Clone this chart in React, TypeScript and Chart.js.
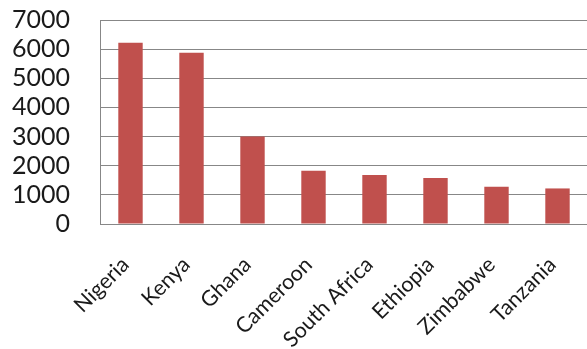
import React, { useEffect, useRef } from "react";
import { Chart, registerables } from "chart.js";

Chart.register(...registerables);

const countries = ["Nigeria", "Kenya", "Ghana", "Cameroon", "South Africa", "Ethiopia", "Zimbabwe", "Tanzania"];
const values = [6220, 5880, 3000, 1830, 1680, 1580, 1280, 1220];
const yMin = 0;
const yMax = 7000;
const yStep = 1000;

export default function App() {
  const ref = useRef<HTMLCanvasElement | null>(null);
  useEffect(() => {
    document.body.style.margin = "0";
    document.body.style.overflow = "hidden";
    const canvas = ref.current!;
    const chart = new Chart(canvas, {
      type: "bar",
      data: {
        labels: countries,
        datasets: [
          {
            data: values,
            backgroundColor: "#C0504D",
            borderWidth: 0,
            categoryPercentage: 1,
            barPercentage: 0.4,
          },
        ],
      },
      options: {
        responsive: false,
        animation: false,
        layout: { padding: { left: 0, top: 20, right: 0, bottom: 0 } },
        plugins: { legend: { display: false }, tooltip: { enabled: false } },
        scales: {
          x: {
            grid: { display: false, drawTicks: false },
            border: { display: true, color: "#878787", width: 1 },
            ticks: {
              color: "#1a1a1a",
              font: { family: "Lato", size: 21.5 },
              minRotation: 45,
              maxRotation: 45,
              padding: 28,
              labelOffset: -5,
              autoSkip: false,
            },
            afterFit: (s: any) => {
              s.height = 125;
              s.paddingLeft = 0;
              s.paddingRight = 0;
            },
          },
          y: {
            min: yMin,
            max: yMax,
            grid: { color: "#878787", lineWidth: 1, drawTicks: false },
            border: { display: true, color: "#878787", width: 1 },
            ticks: {
              stepSize: yStep,
              autoSkip: false,
              color: "#1a1a1a",
              font: { family: "Lato", size: 25 },
              padding: 30,
              callback: (v: any) => String(v),
            },
            afterFit: (s: any) => {
              s.width = 100;
              s.paddingTop = 0;
              s.paddingBottom = 0;
            },
          },
        },
      },
    });
    return () => chart.destroy();
  }, []);
  return (
    <div style={{ position: "absolute", left: 0, top: 0, width: 588, height: 349 }}>
      <canvas ref={ref} width={588} height={349} />
    </div>
  );
}
